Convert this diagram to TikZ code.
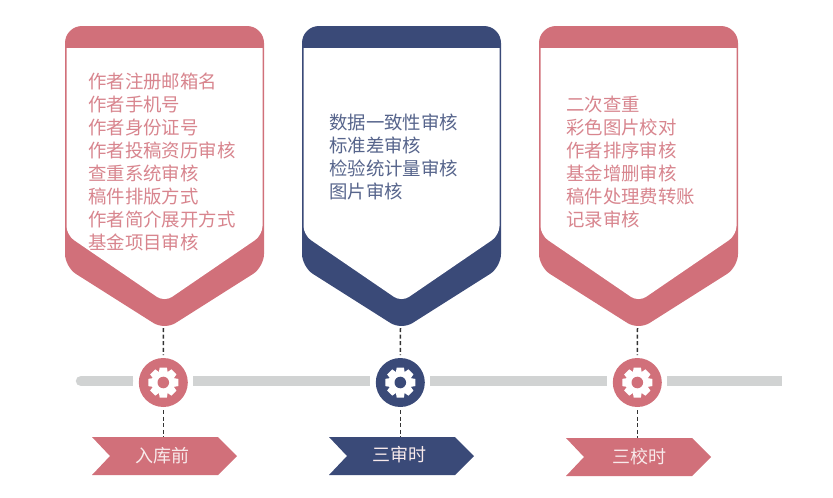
\documentclass[tikz,border=0pt]{standalone}
\usepackage{fontspec}
\setmainfont{Noto Sans CJK SC}
\usepackage{xcolor}
\usetikzlibrary{positioning,calc}
\definecolor{rosered}{HTML}{D1707A}
\definecolor{deepnavy}{HTML}{3A4A78}
\definecolor{barcolor}{HTML}{D1D3D3}
\tikzset{
  stemline/.style={dash pattern=on 4pt off 2.6pt, line width=1.5pt, black!80},
  listtext/.style={anchor=north west, align=left, inner sep=0pt, font=\fontsize{18.4}{22.9}\selectfont},
  tagtext/.style={text=white!85!rosered, inner sep=0pt, font=\fontsize{18}{20}\selectfont},
  hubdisc/.style={circle, minimum size=49pt, inner sep=0pt, outer sep=3pt},
}
% one panel: outer body, then the white inside
\newcommand{\panelshape}[1]{%
  \fill[#1, rounded corners=17pt] (65,150) -- (65,26) -- (264,26) -- (264,150)
    [rounded corners=13pt] -- (264,267) -- (164.5,330) -- (65,267) -- cycle;
  \fill[white] (66.5,48) -- (262.5,48) [rounded corners=9pt] -- (262.5,235) -- (164.5,302) -- (66.5,235) [sharp corners] -- cycle;
}
\newcommand{\gearshape}[1]{%
  \foreach \a in {0,45,...,315}
    \fill[white, rotate=\a] (-3.6,-15) -- (3.6,-15) -- (4.6,-9) -- (-4.6,-9) -- cycle;
  \fill[white] (0,0) circle (11);
  \fill[#1] (0,0) circle (5.8);
}
\begin{document}
\begin{tikzpicture}[x=1pt, y=-1pt]
\useasboundingbox (0,0) rectangle (833,498);
% ---- timeline bar ----
\draw[barcolor, line width=10.5pt, line cap=round] (81,381) -- (128,381);
\fill[barcolor] (128,375.7) rectangle (133,386.3);
\fill[barcolor] (193,375.7) rectangle (370,386.3);
\fill[barcolor] (430,375.7) rectangle (607,386.3);
\fill[barcolor] (667,375.7) rectangle (782,386.3);
% ---- left column ----
\begin{scope}
\panelshape{rosered}
\coordinate (tipa) at (163.5,328);
\node[hubdisc, fill=rosered] (huba) at (163.3,382.5) {};
\begin{scope}[shift={(huba.center)}] \gearshape{rosered} \end{scope}
\fill[rosered] (92,437) -- (218,437) -- (237,456) -- (218,475) -- (92,475) -- (110,456) -- cycle;
\coordinate (taga) at (163.3,437);
\node[tagtext] (labela) at (162,455.5) {入库前};
\node[listtext, text=rosered!85!white] (lista) at (88,73) {作者注册邮箱名\\作者手机号\\作者身份证号\\作者投稿资历审核\\查重系统审核\\稿件排版方式\\作者简介展开方式\\基金项目审核};
\draw[stemline] (tipa) -- (huba.north);
\draw[stemline] (huba.south) -- (taga);
\end{scope}
% ---- middle column ----
\begin{scope}[xshift=237pt]
\panelshape{deepnavy}
\coordinate (tipb) at (163.5,328);
\node[hubdisc, fill=deepnavy] (hubb) at (163.3,382.5) {};
\begin{scope}[shift={(hubb.center)}] \gearshape{deepnavy} \end{scope}
\fill[deepnavy] (92,437) -- (218,437) -- (237,456) -- (218,475) -- (92,475) -- (110,456) -- cycle;
\coordinate (tagb) at (163.3,437);
\node[tagtext] (labelb) at (162.5,455) {三审时};
\node[listtext, text=deepnavy!85!white] (listb) at (92,114) {数据一致性审核\\标准差审核\\检验统计量审核\\图片审核};
\draw[stemline] (tipb) -- (hubb.north);
\draw[stemline] (hubb.south) -- (tagb);
\end{scope}
% ---- right column ----
\begin{scope}[xshift=474pt]
\panelshape{rosered}
\coordinate (tipc) at (163.5,328);
\node[hubdisc, fill=rosered] (hubc) at (163.3,382.5) {};
\begin{scope}[shift={(hubc.center)}] \gearshape{rosered} \end{scope}
\fill[rosered] (92,438) -- (218,438) -- (237,457) -- (218,476) -- (92,476) -- (110,457) -- cycle;
\coordinate (tagc) at (163.3,438);
\node[tagtext] (labelc) at (165,456.5) {三校时};
\node[listtext, text=rosered!85!white] (listc) at (92,96) {二次查重\\彩色图片校对\\作者排序审核\\基金增删审核\\稿件处理费转账\\记录审核};
\draw[stemline] (tipc) -- (hubc.north);
\draw[stemline] (hubc.south) -- (tagc);
\end{scope}
\end{tikzpicture}
\end{document}
